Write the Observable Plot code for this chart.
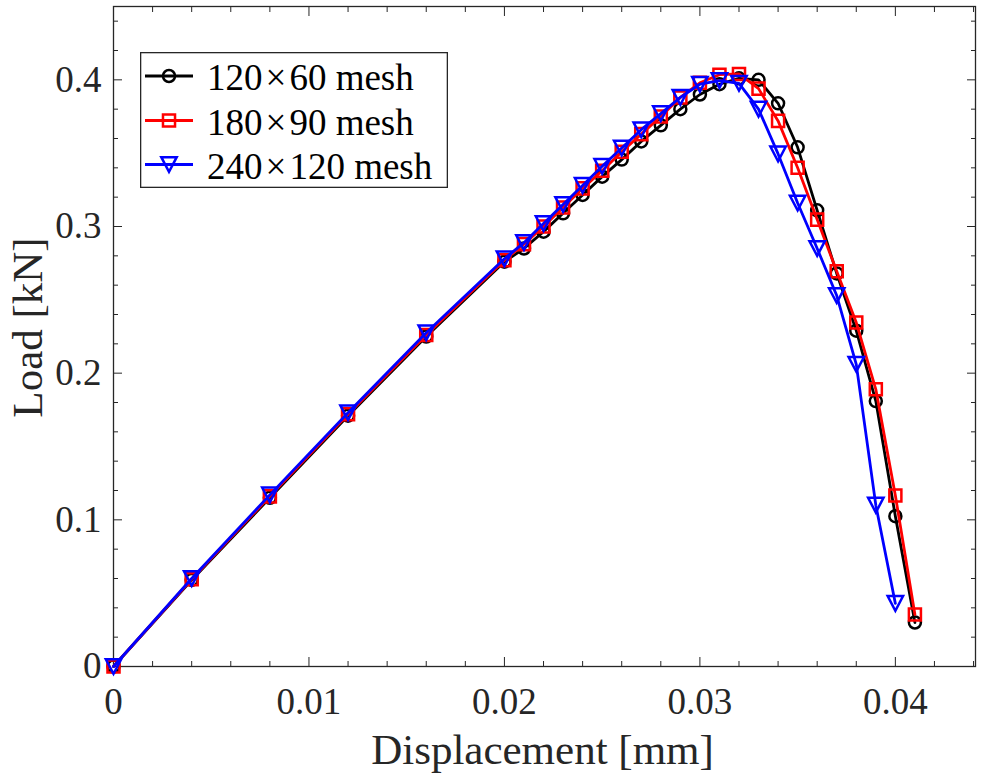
<!DOCTYPE html>
<html>
<head>
<meta charset="utf-8">
<script src="https://cdn.jsdelivr.net/npm/d3@7"></script>
<script src="https://cdn.jsdelivr.net/npm/@observablehq/plot@0.6"></script>
<style>
  html, body { margin: 0; padding: 0; background: white; }
  #wrap { position: relative; width: 985px; height: 773px; overflow: hidden; }
  #legend { position: absolute; left: 140px; top: 52px; }
</style>
</head>
<body>
<div id="wrap"></div>
<script>
// ---- data ----
const disp = [0, 0.004, 0.008, 0.012, 0.016, 0.020, 0.021, 0.022, 0.023, 0.024, 0.025,
  0.026, 0.027, 0.028, 0.029, 0.030, 0.031, 0.032, 0.033, 0.034, 0.035, 0.036,
  0.037, 0.038, 0.039, 0.040, 0.041];
const load120x60 = [0, 0.059, 0.115, 0.171, 0.225, 0.276, 0.285, 0.2965, 0.309, 0.3215, 0.334,
  0.3456, 0.358, 0.369, 0.380, 0.390, 0.397, 0.401, 0.400, 0.384, 0.354, 0.311,
  0.268, 0.229, 0.181, 0.1025, 0.030];
const load180x90 = [0, 0.0595, 0.116, 0.172, 0.226, 0.277, 0.288, 0.300, 0.313, 0.326, 0.338,
  0.351, 0.363, 0.375, 0.388, 0.398, 0.4035, 0.404, 0.394, 0.372, 0.340, 0.3047,
  0.2695, 0.2345, 0.189, 0.1166, 0.0354];
const load240x120 = [0, 0.060, 0.117, 0.173, 0.2275, 0.278, 0.289, 0.302, 0.315, 0.328, 0.341,
  0.3535, 0.366, 0.377, 0.388, 0.397, 0.3995, 0.3976, 0.380, 0.3495, 0.316, 0.285,
  0.2529, 0.206, 0.110, 0.043];
const seriesNames = ["120\u00d760 mesh", "180\u00d790 mesh", "240\u00d7120 mesh"];
const seriesColors = ["#000000", "#ff0000", "#0000ff"];
const xMajor = [0, 0.01, 0.02, 0.03, 0.04];
const xMinor = [0.002, 0.004, 0.006, 0.008, 0.012, 0.014, 0.016, 0.018, 0.022, 0.024, 0.026, 0.028, 0.032, 0.034, 0.036, 0.038, 0.042, 0.044];
const yMajor = [0, 0.1, 0.2, 0.3, 0.4];
const yMinor = [0.02, 0.04, 0.06, 0.08, 0.12, 0.14, 0.16, 0.18, 0.22, 0.24, 0.26, 0.28, 0.32, 0.34, 0.36, 0.38, 0.42, 0.44];
const xLabel = "Displacement [mm]";
const yLabel = "Load [kN]";

// ---- build table ----
const loads = [load120x60, load180x90, load240x120];
const rows = [];
loads.forEach((arr, i) => arr.forEach((v, j) => rows.push({series: seriesNames[i], x: disp[j], y: v})));

const triangleDown = {
  draw(context, size) {
    const h = Math.sqrt(size / Math.PI) * 1.1;
    context.moveTo(-h, -h * 0.95);
    context.lineTo(h, -h * 0.95);
    context.lineTo(0, h * 0.95);
    context.closePath();
  }
};
const symbols = [d3.symbolCircle, d3.symbolSquare, triangleDown];
const radii = [6, 6.8, 7];

const ink = "#262626";
const serif = "'Liberation Serif', 'Times New Roman', serif";
const fmt = d => d === 0 ? "0" : String(+d.toFixed(3));
const blank = () => "";

const marks = [];
seriesNames.forEach((name, i) => {
  const data = rows.filter(r => r.series === name);
  marks.push(Plot.line(data, {x: "x", y: "y", stroke: seriesColors[i], strokeWidth: 2.8}));
  marks.push(Plot.dot(data, {x: "x", y: "y", stroke: seriesColors[i], strokeWidth: 2.5, fill: "none",
    r: radii[i], symbol: () => symbols[i]}));
});

const chart = Plot.plot({
  width: 985,
  height: 773,
  marginLeft: 113,
  marginRight: 10,
  marginTop: 6,
  marginBottom: 107,
  style: {fontFamily: serif, fontSize: "37px", color: ink, background: "white", overflow: "visible"},
  x: {domain: [0, 0.0441]},
  y: {domain: [0, 0.45]},
  marks: [
    Plot.frame({stroke: ink, strokeWidth: 1.3}),
    Plot.axisX(xMajor, {label: null, tickSize: 0, tickPadding: 21, tickFormat: fmt, fill: ink, fontSize: 37}),
    Plot.axisX(xMajor, {label: null, tickSize: -9, tickFormat: blank, stroke: ink}),
    Plot.axisX(xMinor, {label: null, tickSize: -5, tickFormat: blank, stroke: ink}),
    Plot.axisX(xMajor, {label: null, anchor: "top", tickSize: -9, tickFormat: blank, stroke: ink}),
    Plot.axisX(xMinor, {label: null, anchor: "top", tickSize: -5, tickFormat: blank, stroke: ink}),
    Plot.axisY(yMajor, {label: null, tickSize: 0, tickPadding: 12, tickFormat: fmt, fill: ink, fontSize: 37}),
    Plot.axisY(yMajor, {label: null, tickSize: -9, tickFormat: blank, stroke: ink}),
    Plot.axisY(yMinor, {label: null, tickSize: -5, tickFormat: blank, stroke: ink}),
    Plot.axisY(yMajor, {label: null, anchor: "right", tickSize: -9, tickFormat: blank, stroke: ink}),
    Plot.axisY(yMinor, {label: null, anchor: "right", tickSize: -5, tickFormat: blank, stroke: ink}),
    Plot.text([xLabel], {frameAnchor: "bottom", text: d => d, textAnchor: "middle", lineAnchor: "middle",
      dy: 84, dx: -2, fontSize: 43, fill: ink}),
    Plot.text([yLabel], {frameAnchor: "left", text: d => d, textAnchor: "middle", lineAnchor: "middle",
      rotate: -90, dx: -85, dy: -9, fontSize: 43, fill: ink}),
    ...marks
  ]
});

const wrap = document.getElementById("wrap");
wrap.appendChild(chart);

// ---- legend ----
const lw = 308, lh = 136;
const leg = d3.create("svg").attr("id", "legend").attr("width", lw).attr("height", lh)
  .style("font-family", serif);
leg.append("rect").attr("x", 0.65).attr("y", 0.65).attr("width", lw - 1.3).attr("height", lh - 1.3)
  .attr("fill", "white").attr("stroke", ink).attr("stroke-width", 1.3);
const rowY = [24, 68.5, 112.5];
seriesNames.forEach((name, i) => {
  const g = leg.append("g");
  g.append("line").attr("x1", 5).attr("x2", 53).attr("y1", rowY[i]).attr("y2", rowY[i])
    .attr("stroke", seriesColors[i]).attr("stroke-width", 2.8);
  g.append("path").attr("d", d3.symbol(symbols[i], Math.PI * radii[i] * radii[i])())
    .attr("transform", `translate(29,${rowY[i]})`)
    .attr("fill", "none").attr("stroke", seriesColors[i]).attr("stroke-width", 2.5);
  const parts = name.split("\u00d7");
  const t = g.append("text").attr("x", 67).attr("y", rowY[i] + 14).attr("font-size", 37).attr("fill", "#000");
  t.append("tspan").text(parts[0]);
  t.append("tspan").attr("dx", 3).text("\u00d7");
  t.append("tspan").attr("dx", 3).text(parts[1]);
});
wrap.appendChild(leg.node());
</script>
</body>
</html>
